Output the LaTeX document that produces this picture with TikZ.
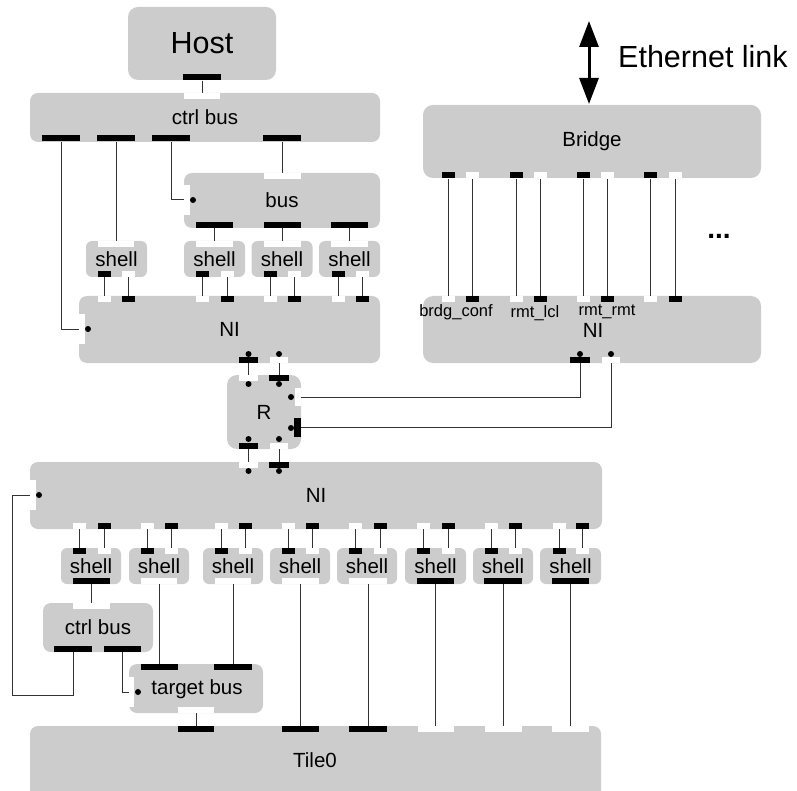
\documentclass[tikz,border=0pt]{standalone}
\usepackage{fontspec}
\setmainfont{Liberation Sans}
\usetikzlibrary{arrows.meta}
\definecolor{boxgray}{HTML}{CCCCCC}
\begin{document}
\begin{tikzpicture}[x=1pt,y=-1pt,
  box/.style={fill=boxgray, rounded corners=#1, inner sep=0pt, draw=none, font=\fontsize{20.5}{24}\selectfont},
  box/.default=8pt,
  pb/.style={fill=black, inner sep=0pt, minimum height=6pt, minimum width=#1, draw=none},
  pb/.default=13pt,
  pw/.style={fill=white, inner sep=0pt, minimum height=6pt, minimum width=#1, draw=none},
  pw/.default=13pt,
  pbv/.style={fill=black, inner sep=0pt, minimum width=7pt, minimum height=#1, draw=none},
  pwv/.style={fill=white, inner sep=0pt, minimum width=6pt, minimum height=#1, draw=none},
  dot/.style={circle, fill=black, inner sep=0pt, minimum size=6pt},
  wire/.style={draw=black!80, line width=1pt},
  shellbox/.style={box=6pt, minimum width=61pt, minimum height=36pt},
  lbl/.style={inner sep=0pt, font=\fontsize{16.5}{19}\selectfont},
]
\useasboundingbox (0,0) rectangle (797,791);
\clip (0,0) rectangle (797,791);

% ---------------- boxes ----------------
\node[box=10pt, minimum width=148pt, minimum height=73pt, font=\fontsize{30.5}{36}\selectfont] (host) at (202,43.5) {Host};
\node[box, minimum width=350pt, minimum height=49pt] (cb1) at (205,117.5) {ctrl bus};
\node[box, minimum width=196pt, minimum height=55pt] (bus) at (282,200.5) {bus};
\node[shellbox] (sh1) at (116.5,259) {shell};
\node[shellbox] (sh2) at (214.5,259) {shell};
\node[shellbox] (sh3) at (282,259) {shell};
\node[shellbox] (sh4) at (349.5,259) {shell};
\node[box, minimum width=301pt, minimum height=67pt] (ni1) at (229.5,329.5) {NI};
\node[box=10pt, minimum width=74pt, minimum height=74pt] (r) at (264,412) {R};
\node[box=10pt, minimum width=338pt, minimum height=73pt] (bridge) at (592,141.5) {Bridge};
\node[box=10pt, minimum width=338pt, minimum height=67pt] (ni2) at (592,329.5) {};
\node[box, minimum width=572pt, minimum height=67pt] (ni3) at (316,495.5) {NI};
\node[shellbox, minimum width=60pt] (t1) at (91,566) {shell};
\node[shellbox, minimum width=60pt] (t2) at (159,566) {shell};
\node[shellbox, minimum width=60pt] (t3) at (233,566) {shell};
\node[shellbox, minimum width=60pt] (t4) at (300,566) {shell};
\node[shellbox, minimum width=60pt] (t5) at (367,566) {shell};
\node[shellbox, minimum width=61pt] (t6) at (435.5,566) {shell};
\node[shellbox, minimum width=60pt] (t7) at (503,566) {shell};
\node[shellbox, minimum width=61pt] (t8) at (570.5,566) {shell};
\node[box, minimum width=110pt, minimum height=49pt] (cb2) at (98,627.5) {ctrl bus};
\node[box, minimum width=134pt, minimum height=49pt] (tb) at (196,688.5) {};
\node[inner sep=0pt, font=\fontsize{20.5}{24}\selectfont] (tbl) at (197,689) {target bus};
\node[box, minimum width=571pt, minimum height=74pt] (tile) at (315.5,763) {};
\node[inner sep=0pt, font=\fontsize{20.5}{24}\selectfont] (tilel) at (315,760) {Tile0};

% NI2 labels
\node[inner sep=0pt, font=\fontsize{20.5}{24}\selectfont] (ni2l) at (593,330) {NI};
\node[lbl] (l1) at (456,312) {brdg\_conf};
\node[lbl] (l2) at (535,313) {rmt\_lcl};
\node[lbl] (l3) at (607,312) {rmt\_rmt};
\node[inner sep=0pt, font=\bfseries\fontsize{28}{30}\selectfont] (dots) at (719,236) {...};

% Ethernet link
\coordinate (ethtop) at (589,21);
\coordinate (ethbot) at (589,104);
\draw[line width=3pt, {Triangle[width=19pt,length=26pt]}-{Triangle[width=19pt,length=26pt]}] (ethtop) -- (ethbot);
\node[inner sep=0pt, anchor=west, font=\fontsize{30.5}{36}\selectfont] (eth) at (618,57) {Ethernet link};

% ---------------- ports ----------------
\node[pb=38pt] (hostp) at (202,77.5) {};
\node[pw=36pt] (cb1t) at (202,96) {};
\node[pb=38pt] (cb1a) at (61,138.5) {};
\node[pb=38pt] (cb1b) at (116,138.5) {};
\node[pb=38pt] (cb1c) at (171,138.5) {};
\node[pb=38pt] (cb1d) at (282,138.5) {};
\node[pw=37pt] (bust) at (282,176) {};
\node[pwv=30pt] (busl) at (187,200) {};
\node[dot] (busld) at (193,200) {};
\node[pb=37pt] (busa) at (214.5,225) {};
\node[pb=37pt] (busb) at (282,225) {};
\node[pb=37pt] (busc) at (349.5,225) {};
\node[pw=36pt] (s1t) at (116,244) {};
\node[pw=37pt] (s2t) at (214.5,244) {};
\node[pw=37pt] (s3t) at (282,244) {};
\node[pw=37pt] (s4t) at (349.5,244) {};
% shell bottoms / NI1 tops
\foreach \a/\b/\i in {104/128/1, 202.5/227/2, 270/294.5/3, 338/362/4}{
  \node[pb] (s\i b) at (\a,274) {};
  \node[pw] (s\i w) at (\b,274) {};
  \node[pw] (n\i w) at (\a,299) {};
  \node[pb] (n\i b) at (\b,299) {};
}
\node[pwv=30pt] (n1l) at (82,329) {};
\node[dot] (n1ld) at (88,329) {};
% NI1 bottom
\node[pb=19pt] (n1x) at (248.5,360) {};
\node[dot] (n1xd) at (248.5,354) {};
\node[pw=18pt] (n1y) at (279,360) {};
\node[dot] (n1yd) at (279,354) {};
% R
\node[pw=19pt] (rtw) at (248.5,378) {};
\node[dot] (rtwd) at (248.5,384) {};
\node[pb=20pt] (rtb) at (279,378) {};
\node[dot] (rtbd) at (279,384) {};
\node[pwv=18pt] (rrw) at (297.5,397) {};
\node[dot] (rrwd) at (291,397) {};
\node[pbv=19pt] (rrb) at (297.5,427.5) {};
\node[dot] (rrbd) at (291,428) {};
\node[pb=19pt] (rbb) at (248.5,446) {};
\node[dot] (rbbd) at (248.5,439) {};
\node[pw=18pt] (rbw) at (279,446) {};
\node[dot] (rbwd) at (279,439) {};
% NI3 top
\node[pw=19pt] (n3tw) at (248.5,465) {};
\node[dot] (n3twd) at (248.5,471) {};
\node[pb=20pt] (n3tb) at (279,465) {};
\node[dot] (n3tbd) at (279,471) {};
% NI2 bottom
\node[pb=20pt] (n2x) at (580,360) {};
\node[dot] (n2xd) at (580,354) {};
\node[pw=18pt] (n2y) at (611,360) {};
\node[dot] (n2yd) at (611,354) {};
% NI3 left
\node[pwv=30pt] (n3l) at (33,495) {};
\node[dot] (n3ld) at (39,495) {};
% NI3 bottom / lower shells top
\foreach \a/\b/\i in {79/104/1, 147/171.5/2, 221/245.5/3, 288/312.5/4, 355.5/380.5/5, 423/448/6, 491/515.5/7, 559/582.5/8}{
  \node[pw] (m\i w) at (\a,526) {};
  \node[pb] (m\i b) at (\b,526) {};
  \node[pb] (u\i b) at (\a,551) {};
  \node[pw] (u\i w) at (\b,551) {};
}
% lower shells bottom
\node[pb=37pt] (v1) at (91.5,581) {};
\node[pw=36pt] (v2) at (159,581) {};
\node[pw=36pt] (v3) at (233,581) {};
\node[pw=37pt] (v4) at (300.5,581) {};
\node[pw=38pt] (v5) at (368,581) {};
\node[pb=37pt] (v6) at (435.5,581) {};
\node[pb=38pt] (v7) at (503,581) {};
\node[pb=37pt] (v8) at (570.5,581) {};
% ctrl bus 2
\node[pw=37pt] (cb2t) at (91.5,606) {};
\node[pb=38pt] (cb2a) at (73,649) {};
\node[pb=37pt] (cb2b) at (122.5,649) {};
% target bus
\node[pb=37pt] (tba) at (159,667) {};
\node[pb=38pt] (tbb) at (233,667) {};
\node[pwv=30pt, minimum width=5pt] (tbl2) at (131.5,692) {};
\node[dot] (tbld) at (138,692) {};
\node[pw=36pt] (tbo) at (196,710) {};
% Tile0
\node[pb=36pt] (ta) at (196,729) {};
\node[pb=37pt] (tb4) at (300.5,729) {};
\node[pb=38pt] (tb5) at (368,729) {};
\node[pw=36pt] (tw6) at (435.5,729) {};
\node[pw=37pt] (tw7) at (503,729) {};
\node[pw=37pt] (tw8) at (570.5,729) {};
% Bridge / NI2
\foreach \a/\b/\i in {448/472.5/1, 516/540/2, 583/607.5/3, 650.5/675/4}{
  \node[pb] (bb\i) at (\a,175.5) {};
  \node[pw] (bw\i) at (\b,175.5) {};
  \node[pw] (qw\i) at (\a,299) {};
  \node[pb] (qb\i) at (\b,299) {};
  \draw[wire] (bb\i.south) -- (qw\i.north);
  \draw[wire] (bw\i.south) -- (qb\i.north);
}

% ---------------- wires ----------------
\draw[wire] (hostp.south) -- (cb1t.north);
\draw[wire] (cb1a.south) |- (n1l.west);
\draw[wire] (cb1b.south) -- (s1t.north);
\draw[wire] (cb1c.south) |- (busl.west);
\draw[wire] (cb1d.south) -- (bust.north);
\draw[wire] (busa.south) -- (s2t.north);
\draw[wire] (busb.south) -- (s3t.north);
\draw[wire] (busc.south) -- (s4t.north);
\foreach \i in {1,2,3,4}{
  \draw[wire] (s\i b.south) -- (n\i w.north);
  \draw[wire] (s\i w.south) -- (n\i b.north);
}
\draw[wire] (n1x.south) -- (rtw.north);
\draw[wire] (n1y.south) -- (rtb.north);
\draw[wire] (rrw.east) -| (n2x.south);
\draw[wire] (rrb.east) -| (n2y.south);
\draw[wire] (rbb.south) -- (n3tw.north);
\draw[wire] (rbw.south) -- (n3tb.north);
\foreach \i in {1,...,8}{
  \draw[wire] (m\i w.south) -- (u\i b.north);
  \draw[wire] (m\i b.south) -- (u\i w.north);
}
\draw[wire] (v1.south) -- (cb2t.north);
\draw[wire] (v2.south) -- (tba.north);
\draw[wire] (v3.south) -- (tbb.north);
\draw[wire] (v4.south) -- (tb4.north);
\draw[wire] (v5.south) -- (tb5.north);
\draw[wire] (v6.south) -- (tw6.north);
\draw[wire] (v7.south) -- (tw7.north);
\draw[wire] (v8.south) -- (tw8.north);
\draw[wire] (tbo.south) -- (ta.north);
\coordinate (c1) at (12,695);
\draw[wire] (cb2a.south) |- (c1) |- (n3l.west);
\draw[wire] (cb2b.south) |- (tbl2.west);
\end{tikzpicture}
\end{document}
